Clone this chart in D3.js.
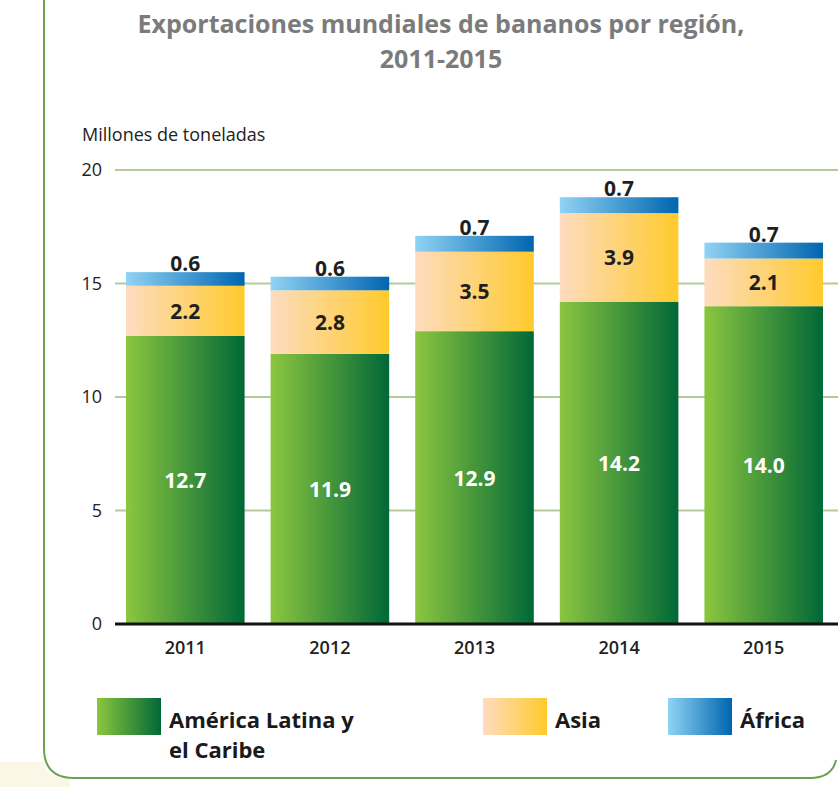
<!DOCTYPE html>
<html>
<head>
<meta charset="utf-8">
<script src="https://cdn.jsdelivr.net/npm/d3@7"></script>
<style>
  body { margin: 0; background: #fff; }
  svg { display: block; }
</style>
</head>
<body>
<div id="chart"></div>
<script>
const years = ['2011', '2012', '2013', '2014', '2015'];
const latam = [12.7, 11.9, 12.9, 14.2, 14.0];
const asia = [2.2, 2.8, 3.5, 3.9, 2.1];
const africa = [0.6, 0.6, 0.7, 0.7, 0.7];
const yTicks = [0, 5, 10, 15, 20];
const seriesNames = ['América Latina y el Caribe', 'Asia', 'África'];

const width = 838, height = 787;
const fontFam = "'Open Sans', sans-serif";

const svg = d3.select('#chart').append('svg')
  .attr('width', width)
  .attr('height', height);

const defs = svg.append('defs');
const grads = [
  { id: 'gGreen', from: '#8cc63f', to: '#006837' },
  { id: 'gAsia', from: '#fddcc0', to: '#ffca2c' },
  { id: 'gAfrica', from: '#90d3f4', to: '#0065b0' }
];
grads.forEach(g => {
  const lg = defs.append('linearGradient').attr('id', g.id)
    .attr('x1', '0%').attr('x2', '100%').attr('y1', '0%').attr('y2', '0%');
  lg.append('stop').attr('offset', '0%').attr('stop-color', g.from);
  lg.append('stop').attr('offset', '100%').attr('stop-color', g.to);
});

// cream corner + frame
svg.append('path')
  .attr('d', 'M0,762 L44,762 Q44,778 70,778 L70,787 L0,787 Z')
  .attr('fill', '#fbf7e6');
svg.append('path')
  .attr('d', 'M44,0 L44,748 Q44,778 74,778 L810,778 Q832,778 836,760')
  .attr('fill', 'none')
  .attr('stroke', '#6f9f52')
  .attr('stroke-width', 2);

// title
const title = ['Exportaciones mundiales de bananos por región,', '2011-2015'];
svg.append('g').selectAll('text')
  .data(title)
  .join('text')
  .attr('x', 441).attr('y', (d, i) => 33 + i * 35)
  .attr('text-anchor', 'middle')
  .attr('font-family', fontFam)
  .attr('font-weight', 'bold')
  .attr('font-size', 25)
  .attr('fill', '#7b7b7b')
  .text(d => d);

svg.append('text')
  .attr('x', 82).attr('y', 141)
  .attr('font-family', fontFam)
  .attr('font-size', 18)
  .attr('fill', '#222')
  .text('Millones de toneladas');

const x = d3.scaleBand()
  .domain(years)
  .range([113, 836])
  .paddingInner(0.18)
  .paddingOuter(0.09);

const y = d3.scaleLinear()
  .domain([0, 20])
  .range([624, 170]);

// gridlines
svg.append('g')
  .selectAll('line')
  .data(yTicks.filter(d => d > 0))
  .join('line')
  .attr('x1', 115).attr('x2', width)
  .attr('y1', d => y(d)).attr('y2', d => y(d))
  .attr('stroke', '#b4c99c')
  .attr('stroke-width', 2);

// y labels
svg.append('g')
  .selectAll('text')
  .data(yTicks)
  .join('text')
  .attr('x', 102)
  .attr('y', d => y(d) + 6)
  .attr('text-anchor', 'end')
  .attr('font-family', fontFam)
  .attr('font-size', 18)
  .attr('fill', '#222')
  .text(d => d);

const rows = years.map((yr, i) => ({ yr, latam: latam[i], asia: asia[i], africa: africa[i] }));
const stack = d3.stack().keys(['latam', 'asia', 'africa'])(rows);
const fills = { latam: 'url(#gGreen)', asia: 'url(#gAsia)', africa: 'url(#gAfrica)' };

svg.append('g')
  .selectAll('g')
  .data(stack)
  .join('g')
  .attr('fill', d => fills[d.key])
  .selectAll('rect')
  .data(d => d)
  .join('rect')
  .attr('x', d => x(d.data.yr))
  .attr('width', x.bandwidth())
  .attr('y', d => y(d[1]))
  .attr('height', d => y(d[0]) - y(d[1]));

// value labels
const lab = svg.append('g')
  .attr('font-family', fontFam)
  .attr('font-weight', 'bold')
  .attr('font-size', 21)
  .attr('text-anchor', 'middle');

lab.selectAll('.l1')
  .data(stack[0])
  .join('text')
  .attr('x', d => x(d.data.yr) + x.bandwidth() / 2)
  .attr('y', d => y((d[0] + d[1]) / 2) + 8)
  .attr('fill', '#fff')
  .text(d => d.data.latam.toFixed(1));

lab.selectAll('.l2')
  .data(stack[1])
  .join('text')
  .attr('x', d => x(d.data.yr) + x.bandwidth() / 2)
  .attr('y', d => y((d[0] + d[1]) / 2) + 8)
  .attr('fill', '#1f1f1f')
  .text(d => d.data.asia.toFixed(1));

lab.selectAll('.l3')
  .data(stack[2])
  .join('text')
  .attr('x', d => x(d.data.yr) + x.bandwidth() / 2)
  .attr('y', d => y(d[1]) - 1)
  .attr('fill', '#1f1f1f')
  .text(d => d.data.africa.toFixed(1));

// baseline
svg.append('line')
  .attr('x1', 115).attr('x2', width)
  .attr('y1', y(0)).attr('y2', y(0))
  .attr('stroke', '#111')
  .attr('stroke-width', 3);

// x labels
svg.append('g')
  .selectAll('text')
  .data(years)
  .join('text')
  .attr('x', d => x(d) + x.bandwidth() / 2)
  .attr('y', 654)
  .attr('text-anchor', 'middle')
  .attr('font-family', fontFam)
  .attr('font-weight', 600)
  .attr('font-size', 18)
  .attr('fill', '#222')
  .text(d => d);

// legend
const legend = [
  { x: 97, grad: 'url(#gGreen)', lines: ['América Latina y', 'el Caribe'] },
  { x: 483, grad: 'url(#gAsia)', lines: [seriesNames[1]] },
  { x: 668, grad: 'url(#gAfrica)', lines: [seriesNames[2]] }
];
const lg = svg.append('g').selectAll('g').data(legend).join('g');
lg.append('rect')
  .attr('x', d => d.x).attr('y', 698)
  .attr('width', 64).attr('height', 37)
  .attr('fill', d => d.grad);
lg.each(function(d) {
  const g = d3.select(this);
  d.lines.forEach((ln, i) => {
    g.append('text')
      .attr('x', d.x + 72)
      .attr('y', 728 + i * 30)
      .attr('font-family', fontFam)
      .attr('font-weight', 'bold')
      .attr('font-size', 22)
      .attr('fill', '#1a1a1a')
      .text(ln);
  });
});
</script>
</body>
</html>
